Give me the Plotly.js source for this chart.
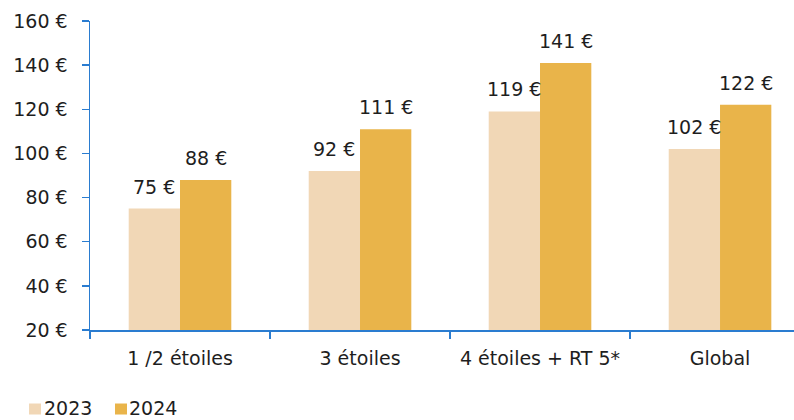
<!DOCTYPE html>
<html><head><meta charset="utf-8">
<script src="https://cdn.plot.ly/plotly-3.0.1.min.js"></script>
<style>html,body{margin:0;padding:0;background:#fff;overflow:hidden}</style>
</head><body>
<div id="chart" style="width:794px;height:420px"></div>
<script>
const categories = ["1 /2 étoiles", "3 étoiles", "4 étoiles + RT 5*", "Global"];
const values2023 = [75, 92, 119, 102];
const values2024 = [88, 111, 141, 122];
const seriesNames = ["2023", "2024"];
const seriesColors = ["#F1D7B6", "#E9B44A"];
const yTicks = [20, 40, 60, 80, 100, 120, 140, 160];

const fontFam = "'DejaVu Sans', Verdana, sans-serif";
const textColor = "#1e1e1e";
const axisBlue = "#2A7CD0";
const fmt = v => v + " €";
const bargap = 0.43;
const half = (1 - bargap) / 4; // half of one bar width in category units

const series = [values2023, values2024];
const traces = series.map((vals, s) => ({
  type: "bar", name: seriesNames[s], x: categories, y: vals,
  marker: {color: seriesColors[s]}, hoverinfo: "skip", showlegend: false
}));

// value labels above each bar, placed through the axes
const annotations = [];
series.forEach((vals, s) => {
  vals.forEach((v, i) => {
    annotations.push({
      xref: "x", yref: "y", x: i + (s === 0 ? -half : half), y: v,
      text: fmt(v), showarrow: false, xanchor: "center", yanchor: "bottom",
      yshift: 9, font: {family: fontFam, size: 19, color: textColor}
    });
  });
});

// legend drawn below the plot
const legendY = -0.253;
const legendSpec = [
  {sq: [-0.0866, -0.0696], tx: -0.0680},
  {sq: [0.0355, 0.0526], tx: 0.0530}
];
const shapes = [];
legendSpec.forEach((L, s) => {
  shapes.push({type: "rect", xref: "paper", yref: "paper", x0: L.sq[0], x1: L.sq[1],
    y0: -0.2735, y1: -0.2379, fillcolor: seriesColors[s], line: {width: 0}});
  annotations.push({xref: "paper", yref: "paper", x: L.tx, y: legendY, xanchor: "left",
    yanchor: "middle", text: seriesNames[s], showarrow: false,
    font: {family: fontFam, size: 19, color: textColor}});
});

const layout = {
  width: 794, height: 420,
  margin: {l: 90, r: 0, t: 21, b: 90},
  paper_bgcolor: "#fff", plot_bgcolor: "#fff",
  barmode: "group", bargap: bargap, bargroupgap: 0,
  font: {family: fontFam, size: 19, color: textColor},
  showlegend: false,
  xaxis: {type: "category", range: [-0.5, 3.411], showline: true, linecolor: axisBlue, linewidth: 1.5,
    ticks: "outside", tickson: "boundaries", ticklen: 7, tickcolor: axisBlue, tickwidth: 1.5,
    ticklabelstandoff: 11,
    showgrid: false, zeroline: false, tickfont: {size: 19}, fixedrange: true},
  yaxis: {range: [20, 160], tickvals: yTicks, ticktext: yTicks.map(fmt), showline: true,
    linecolor: axisBlue, linewidth: 1.5, ticks: "outside", ticklen: 7, tickcolor: axisBlue, tickwidth: 1.5,
    ticklabelstandoff: 10,
    showgrid: false, zeroline: false, tickfont: {size: 19}, fixedrange: true},
  annotations: annotations,
  shapes: shapes
};

Plotly.newPlot("chart", traces, layout, {staticPlot: true, displayModeBar: false});
</script>
</body></html>
